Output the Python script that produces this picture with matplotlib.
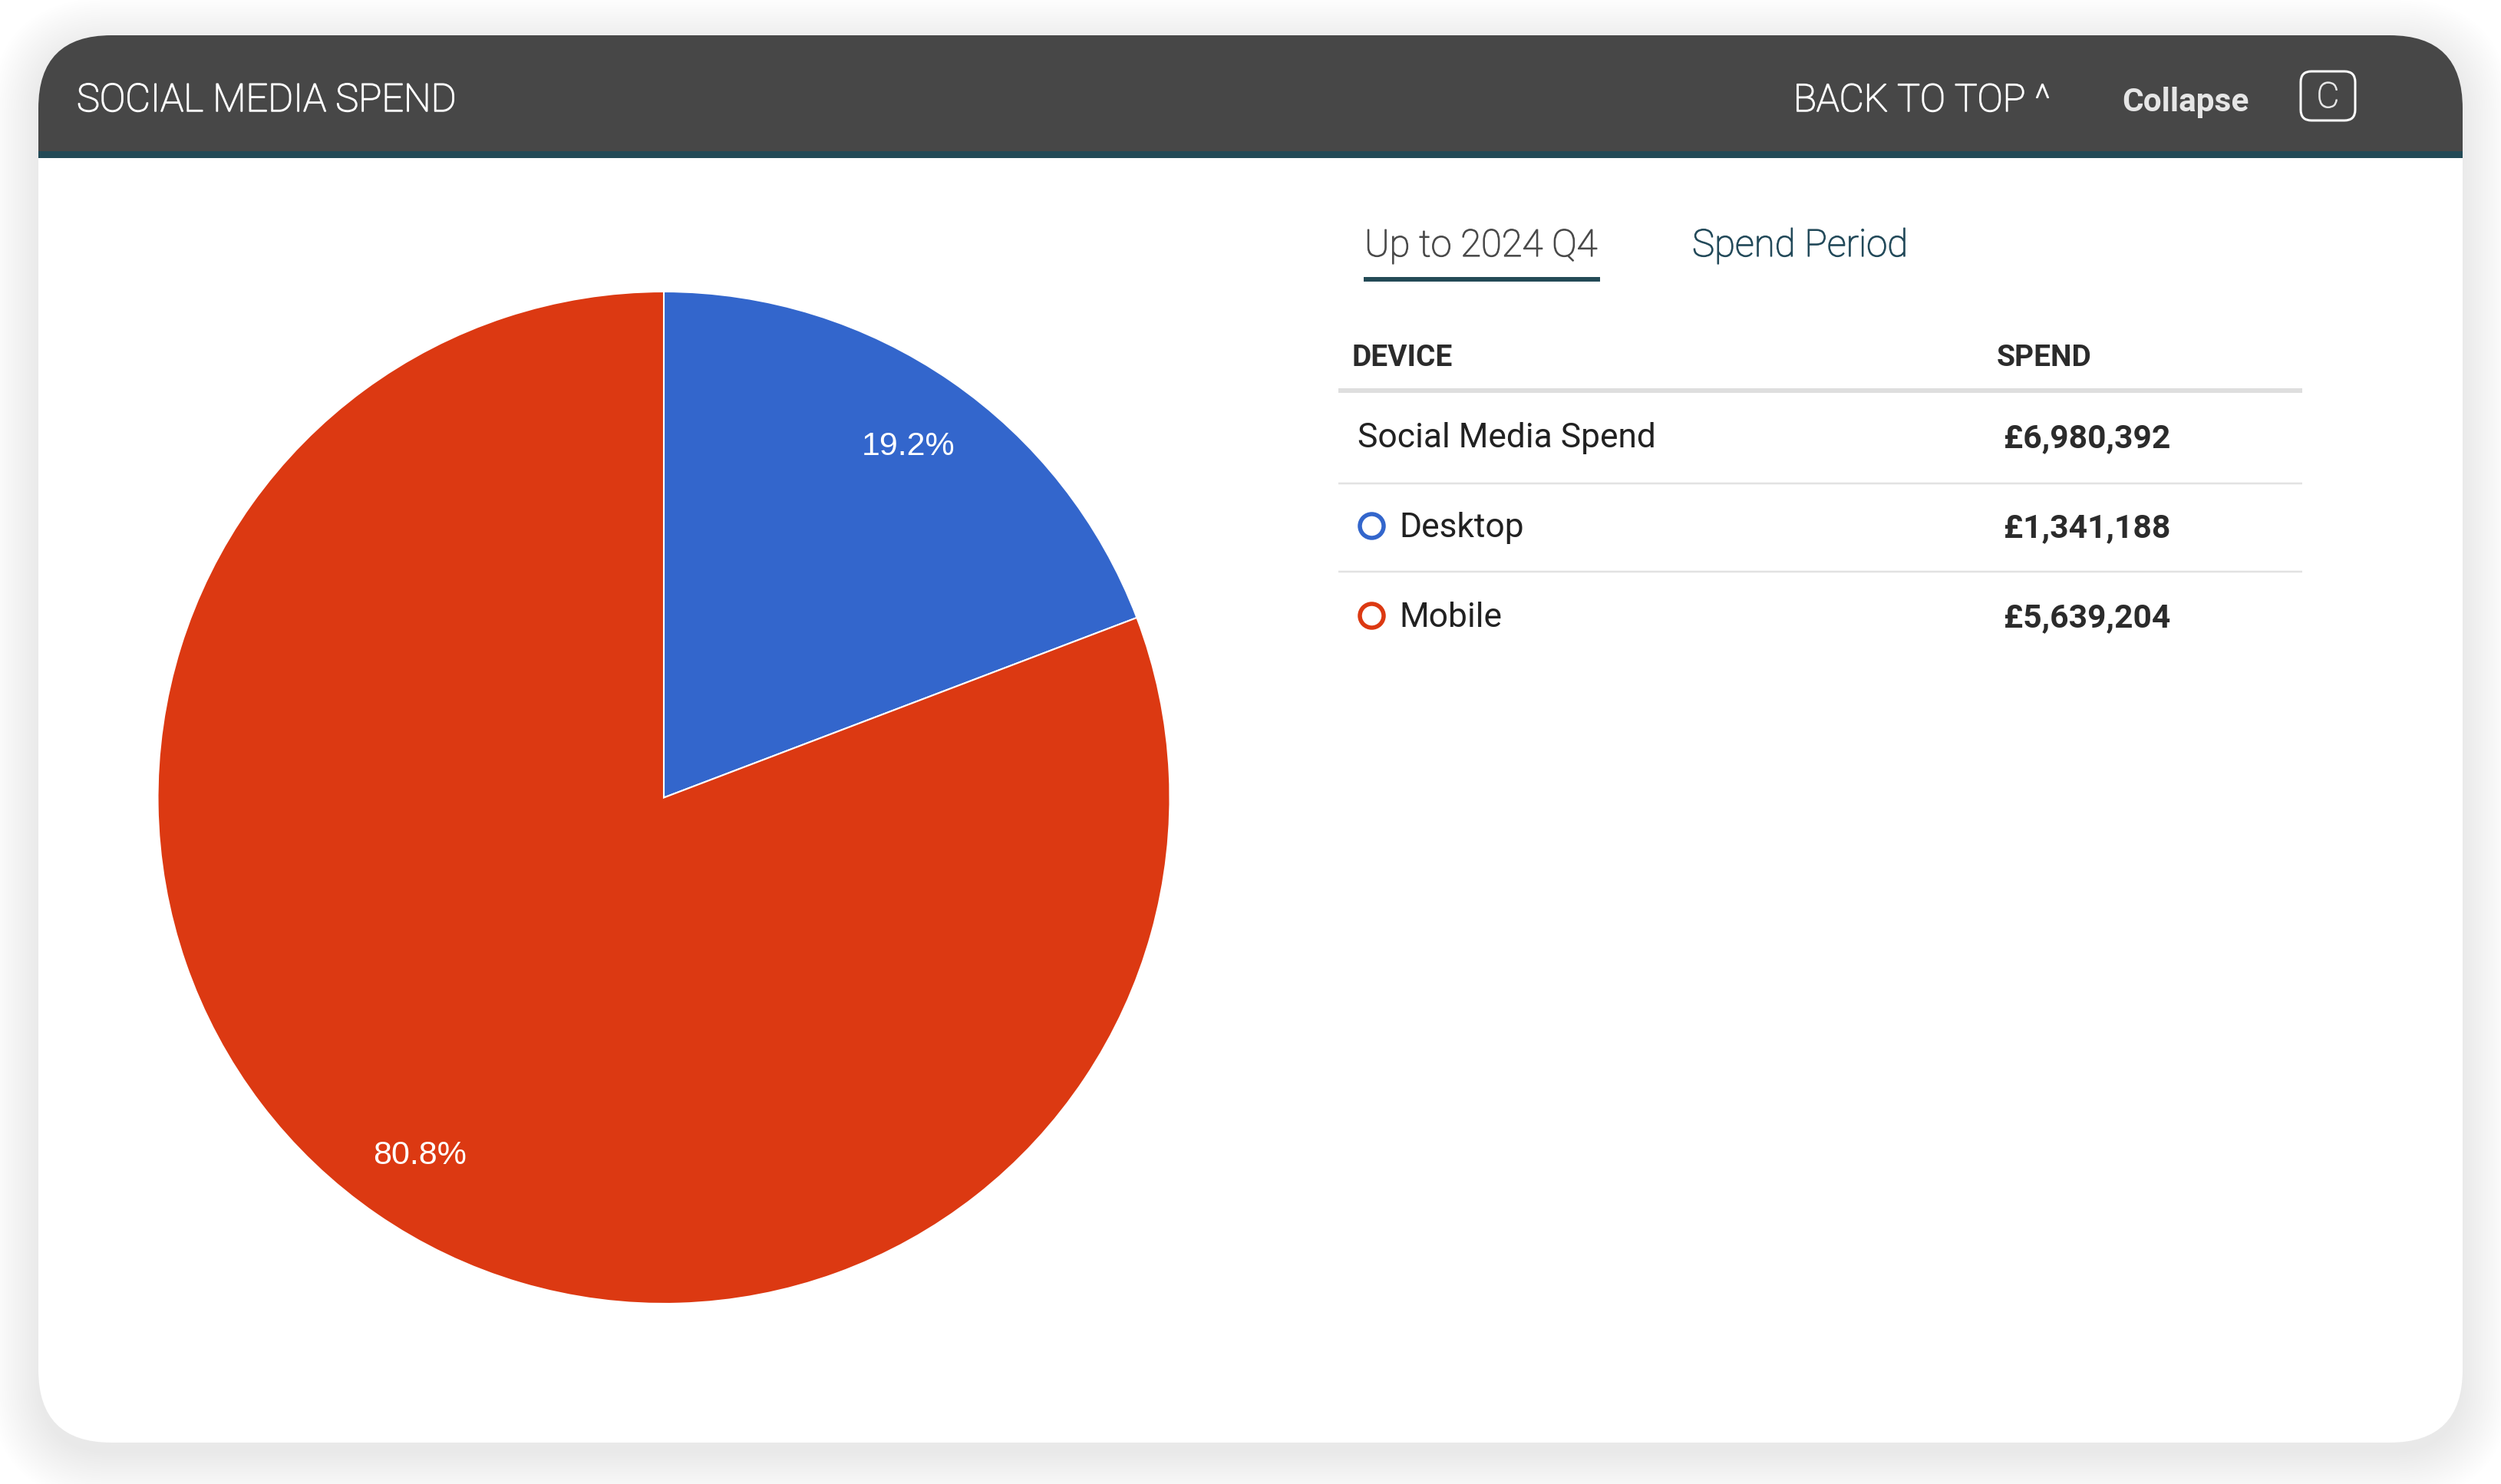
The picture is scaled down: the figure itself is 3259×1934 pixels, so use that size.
import matplotlib
matplotlib.use("Agg")
import matplotlib.pyplot as plt
import matplotlib.patheffects as pe
from matplotlib.patches import FancyBboxPatch, Rectangle

# ---------------- data ----------------
devices = ["Desktop", "Mobile"]
spend = [1341188, 5639204]
device_colors = ["#3366cc", "#dc3912"]
total_label = "Social Media Spend"
columns = ["DEVICE", "SPEND"]
tabs = ["Up to 2024 Q4", "Spend Period"]
title = "SOCIAL MEDIA SPEND"
header_links = ["BACK TO TOP ^", "Collapse", "C"]

# ---------------- figure ----------------
W, H, DPI = 3259, 1934, 100
PT = 72.0 / DPI  # points per pixel
fig = plt.figure(figsize=(W / DPI, H / DPI), dpi=DPI)
fig.patch.set_facecolor("white")
bg = fig.add_axes([0, 0, 1, 1])
bg.set_xlim(0, W)
bg.set_ylim(H, 0)
bg.axis("off")
renderer = fig.canvas.get_renderer()


def rbox(x0, y0, x1, y1, r, **kw):
    return FancyBboxPatch((x0, y0), x1 - x0, y1 - y0,
                          boxstyle=f"round,pad=0,rounding_size={r}", **kw)


def fit(x, ybase, s, width_px, ha="left", **kw):
    t = bg.text(x, ybase, s, fontsize=20, va="baseline", ha=ha, **kw)
    bb = t.get_window_extent(renderer)
    t.set_fontsize(20 * width_px / bb.width)
    return t


def thicken(t, color, lw=1.0):
    t.set_path_effects([pe.withStroke(linewidth=lw, foreground=color)])


# card geometry
cx0, cy0, cx1, cy1, rad = 50, 46, 3209, 1880, 95

# soft shadow
for i in range(22):
    s = 3 * i
    bg.add_patch(rbox(cx0 - s, cy0 - s + 14, cx1 + s, cy1 + s + 14, rad + s,
                      fc="#3c4a50", ec="none", alpha=0.0055, zorder=0))

card = rbox(cx0, cy0, cx1, cy1, rad, fc="white", ec="none", zorder=1)
bg.add_patch(card)
hdr = Rectangle((cx0, cy0), cx1 - cx0, 197 - cy0, fc="#474747", ec="none", zorder=2)
bg.add_patch(hdr)
hdr.set_clip_path(card)
strip = Rectangle((cx0, 197), cx1 - cx0, 9, fc="#234a56", ec="none", zorder=2)
bg.add_patch(strip)
strip.set_clip_path(card)

# header texts
t = fit(100, 145, title, 495, color="white", family="Roboto", fontweight="light", zorder=3)
thicken(t, "white", 1.1)
t = fit(2337, 145, header_links[0], 334, color="white", family="Roboto",
        fontweight="light", zorder=3)
thicken(t, "white", 1.1)
bg.text(2848, 145, header_links[1], fontsize=30.5, fontweight="bold", family="Roboto",
        color="#e6e6e6", ha="center", va="baseline", zorder=3)
bg.add_patch(rbox(2998, 93, 3069, 157, 14, fc="none", ec="white",
                  lw=3 * PT, zorder=3))
t = bg.text(3033.5, 140, header_links[2], fontsize=33, fontweight="light", family="Roboto",
            color="#e6e6e6", ha="center", va="baseline", zorder=3)
thicken(t, "#e6e6e6", 0.9)

# tabs
t = fit(1778, 334, tabs[0], 303, color="#4a4a4a", family="Roboto", fontweight="light", zorder=3)
thicken(t, "#4a4a4a", 0.9)
t = fit(2205, 334, tabs[1], 281, color="#234a5a", family="Roboto", fontweight="light", zorder=3)
thicken(t, "#234a5a", 0.9)
bg.add_patch(Rectangle((1777, 361), 308, 6, fc="#234a56", ec="none", zorder=3))

# table header
bg.text(1761, 477, columns[0], fontsize=28, fontweight="bold", family="Roboto",
        color="#2b2b2b", ha="left", va="baseline", zorder=3)
bg.text(2602, 477, columns[1], fontsize=28, fontweight="bold", family="Roboto",
        color="#2b2b2b", ha="left", va="baseline", zorder=3)
bg.plot([1744, 3000], [509, 509], color="#dedede", lw=6 * PT, solid_capstyle="butt", zorder=3)

# rows
row_base = [583, 700, 817]
row_lines = [630, 745]
labels = [total_label] + devices
values = [sum(spend)] + spend
t0 = fit(1769, row_base[0], labels[0], 388, color="#212121", family="Roboto", zorder=3)
fs_lab = t0.get_fontsize()
v0 = fit(2611, row_base[0], f"£{values[0]:,}", 217, color="#2b2b2b", family="Roboto",
         fontweight="bold", zorder=3)
fs_val = v0.get_fontsize()
for i in range(1, 3):
    bg.text(1823, row_base[i], labels[i], fontsize=fs_lab, family="Roboto",
            color="#212121", ha="left", va="baseline", zorder=3)
    bg.text(2611, row_base[i], f"£{values[i]:,}", fontsize=fs_val, family="Roboto",
            fontweight="bold", color="#2b2b2b", ha="left", va="baseline", zorder=3)
    bg.plot(1787, row_base[i] - 15, "o", ms=31 * PT, mfc="white",
            mec=device_colors[i - 1], mew=5.5 * PT, zorder=4)
for y in row_lines:
    bg.plot([1744, 3000], [y, y], color="#e2e2e2", lw=2.5 * PT, solid_capstyle="butt", zorder=3)

# ---------------- pie ----------------
pcx, pcy, pr = 865, 1039.5, 659.5
pax = fig.add_axes([(pcx - pr) / W, 1 - (pcy + pr) / H, 2 * pr / W, 2 * pr / H])
wedges, texts, autotexts = pax.pie(
    spend, colors=device_colors, startangle=90, counterclock=False,
    autopct="%.1f%%", pctdistance=0.85,
    wedgeprops=dict(edgecolor="white", linewidth=1.5),
    textprops=dict(color="white", fontsize=31, family="Liberation Sans"),
)
for t in autotexts:
    t.set_va("center_baseline")
pax.set_xlim(-1, 1)
pax.set_ylim(-1, 1)
pax.set_aspect("equal")
pax.axis("off")

fig.savefig("out.png", dpi=DPI, facecolor="white")
